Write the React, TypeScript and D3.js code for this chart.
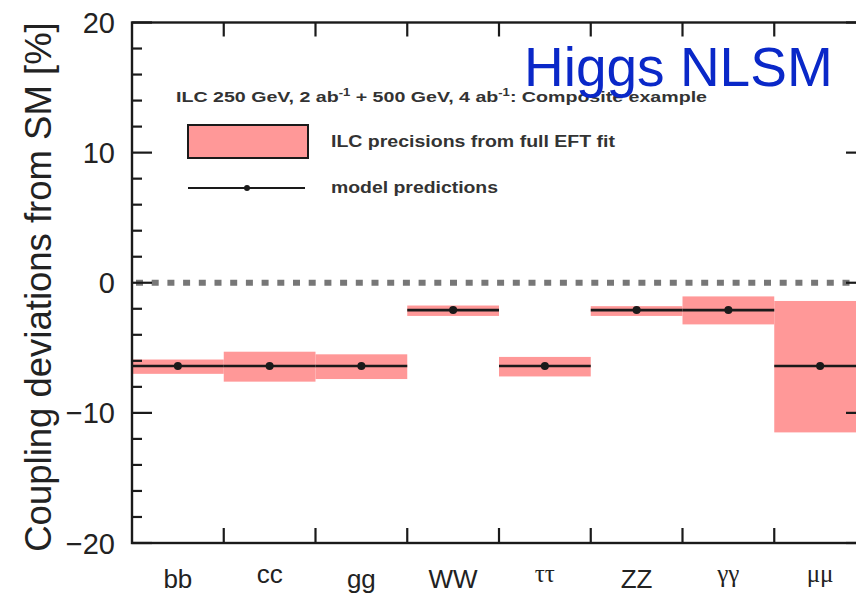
import * as d3 from "d3";
import { useEffect, useRef } from "react";

// channels along the x axis
const channels = ["bb", "cc", "gg", "WW", "ττ", "ZZ", "γγ", "μμ"];
const greek = ["ττ", "γγ", "μμ"];
// model predictions [%]
const predictions = [-6.4, -6.4, -6.4, -2.1, -6.4, -2.1, -2.1, -6.4];
// ILC precision band edges [%]
const bandTop = [-5.9, -5.3, -5.5, -1.75, -5.7, -1.8, -1.05, -1.4];
const bandBottom = [-7.0, -7.6, -7.4, -2.55, -7.2, -2.55, -3.2, -11.5];
const yMajor = [-20, -10, 0, 10, 20];
const yMinor = [-18, -16, -14, -12, -8, -6, -4, -2, 2, 4, 6, 8, 12, 14, 16, 18];

const W = 856;
const H = 593;
const PINK = "#ff9898";
const INK = "#1a1a1a";

export default function App() {
  const ref = useRef<SVGSVGElement>(null);

  useEffect(() => {
    const svg = d3.select(ref.current);
    svg.selectAll("*").remove();

    const left = 132, right = 866, top = 22.5, bottom = 543;
    const x = d3.scaleBand().domain(channels).range([left, right]).padding(0);
    const y = d3.scaleLinear().domain([-20, 20]).range([bottom, top]);

    // precision bands
    svg.append("g")
      .selectAll("rect")
      .data(channels)
      .enter()
      .append("rect")
      .attr("x", (d) => x(d)!)
      .attr("width", x.bandwidth())
      .attr("y", (d, i) => y(bandTop[i]))
      .attr("height", (d, i) => y(bandBottom[i]) - y(bandTop[i]))
      .attr("fill", PINK);

    // SM reference line
    svg.append("line")
      .attr("x1", left + 4).attr("x2", right)
      .attr("y1", y(0)).attr("y2", y(0))
      .attr("stroke", "#777")
      .attr("stroke-width", 6)
      .attr("stroke-dasharray", "7 8.7");

    // model prediction lines + dots
    const pred = svg.append("g");
    pred.selectAll("line")
      .data(channels)
      .enter()
      .append("line")
      .attr("x1", (d) => x(d)!)
      .attr("x2", (d) => x(d)! + x.bandwidth())
      .attr("y1", (d, i) => y(predictions[i]))
      .attr("y2", (d, i) => y(predictions[i]))
      .attr("stroke", INK)
      .attr("stroke-width", 2.6);
    pred.selectAll("circle")
      .data(channels)
      .enter()
      .append("circle")
      .attr("cx", (d) => x(d)! + x.bandwidth() / 2)
      .attr("cy", (d, i) => y(predictions[i]))
      .attr("r", 4)
      .attr("fill", INK);

    // frame
    svg.append("rect")
      .attr("x", left).attr("y", top)
      .attr("width", right - left).attr("height", bottom - top)
      .attr("fill", "none")
      .attr("stroke", INK)
      .attr("stroke-width", 2.4);

    // y ticks, both sides, pointing inward
    const ticks = svg.append("g").attr("stroke", INK).attr("stroke-width", 2.2);
    [...yMajor.map((v) => ({ v, len: 20 })), ...yMinor.map((v) => ({ v, len: 10 }))].forEach((t) => {
      ticks.append("line").attr("x1", left).attr("x2", left + t.len)
        .attr("y1", y(t.v)).attr("y2", y(t.v));
      ticks.append("line").attr("x1", right).attr("x2", right - t.len)
        .attr("y1", y(t.v)).attr("y2", y(t.v));
    });
    // x ticks at bin edges, top and bottom
    channels.slice(1).forEach((c) => {
      const xv = x(c)!;
      ticks.append("line").attr("x1", xv).attr("x2", xv).attr("y1", bottom).attr("y2", bottom - 15);
      ticks.append("line").attr("x1", xv).attr("x2", xv).attr("y1", top).attr("y2", top + 14);
    });

    // y tick labels
    svg.append("g")
      .selectAll("text")
      .data(yMajor)
      .enter()
      .append("text")
      .attr("x", 115)
      .attr("y", (d) => y(d) + 10.5)
      .attr("text-anchor", "end")
      .attr("font-family", "Liberation Sans, Arial, sans-serif")
      .attr("font-size", 29)
      .attr("fill", "#222")
      .text((d) => (d < 0 ? "\u2212" + Math.abs(d) : String(d)));

    // x labels
    svg.append("g")
      .selectAll("text")
      .data(channels)
      .enter()
      .append("text")
      .attr("x", (d) => x(d)! + x.bandwidth() / 2)
      .attr("y", (d) => (greek.includes(d) ? 582 : d === "cc" ? 583 : 588))
      .attr("text-anchor", "middle")
      .attr("font-family", (d) => (greek.includes(d) ? "Liberation Serif, serif" : "Liberation Sans, Arial, sans-serif"))
      .attr("font-size", (d) => (greek.includes(d) ? 25 : 26))
      .attr("fill", "#222")
      .text((d) => d);

    // y axis title
    svg.append("text")
      .attr("transform", `translate(51, 287) rotate(-90)`)
      .attr("text-anchor", "middle")
      .attr("font-family", "Liberation Sans, Arial, sans-serif")
      .attr("font-size", 36.5)
      .attr("fill", "#222")
      .text("Coupling deviations from SM [%]");

    // legend
    const lg = svg.append("g")
      .attr("font-family", "Liberation Sans, Arial, sans-serif")
      .attr("font-weight", "bold")
      .attr("fill", "#333");
    const title = lg.append("text").attr("x", 176).attr("y", 102).attr("font-size", 15);
    title.append("tspan").text("ILC 250 GeV, 2 ab");
    title.append("tspan").attr("dy", -6).attr("font-size", 10).text("-1");
    title.append("tspan").attr("dy", 6).text(" + 500 GeV, 4 ab");
    title.append("tspan").attr("dy", -6).attr("font-size", 10).text("-1");
    title.append("tspan").attr("dy", 6).text(": Composite example");
    title.attr("textLength", 531).attr("lengthAdjust", "spacingAndGlyphs");

    lg.append("rect")
      .attr("x", 188).attr("y", 125).attr("width", 120).attr("height", 33)
      .attr("fill", PINK).attr("stroke", INK).attr("stroke-width", 2);
    lg.append("text").attr("x", 331).attr("y", 147).attr("font-size", 16)
      .attr("textLength", 284).attr("lengthAdjust", "spacingAndGlyphs")
      .text("ILC precisions from full EFT fit");
    lg.append("line")
      .attr("x1", 188).attr("x2", 305).attr("y1", 188).attr("y2", 188)
      .attr("stroke", INK).attr("stroke-width", 2.2);
    lg.append("circle").attr("cx", 247).attr("cy", 188).attr("r", 3).attr("fill", INK);
    lg.append("text").attr("x", 331).attr("y", 193).attr("font-size", 16)
      .attr("textLength", 167).attr("lengthAdjust", "spacingAndGlyphs")
      .text("model predictions");

    // overlay title
    svg.append("text")
      .attr("x", 524).attr("y", 86)
      .attr("font-family", "Liberation Sans, Arial, sans-serif")
      .attr("font-size", 55)
      .attr("fill", "#0a28c8")
      .text("Higgs NLSM");
  }, []);

  return (
    <svg
      ref={ref}
      width={W}
      height={H}
      style={{ position: "fixed", left: 0, top: 0, background: "#fff" }}
    />
  );
}
